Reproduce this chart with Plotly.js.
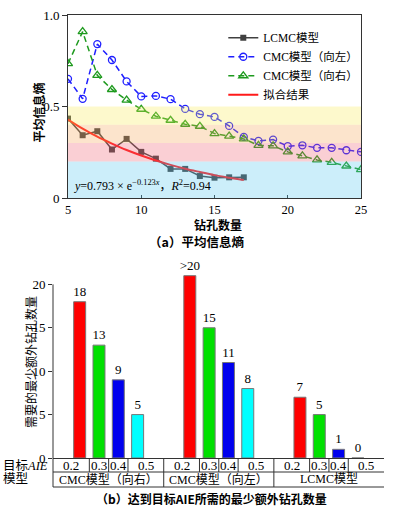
<!DOCTYPE html>
<html><head><meta charset="utf-8">
<script src="https://cdn.plot.ly/plotly-3.0.1.min.js"></script>
<style>
html,body{margin:0;padding:0;background:#fff;width:395px;height:511px;overflow:hidden}
#a{position:absolute;left:0;top:0;width:395px;height:250px}
#b{position:absolute;left:0;top:250px;width:395px;height:261px}
</style></head><body>
<div id="a"></div><div id="b"></div>
<script>
// ===== (a) 平均信息熵 data =====
const lcmcHoles = [5,6,7,8,9,10,11,12,13,14,15,16,17];
const lcmcAIE   = [0.434,0.343,0.365,0.265,0.323,0.252,0.215,0.159,0.159,0.120,0.111,0.113,0.113];
const cmcHoles  = [5,6,7,8,9,10,11,12,13,14,15,16,17,18,19,20,21,22,23,24,25];
const cmcLeftAIE  = [0.651,0.542,0.841,0.754,0.637,0.555,0.558,0.540,0.487,0.458,0.443,0.394,0.334,0.312,0.319,0.283,0.288,0.274,0.274,0.261,0.252];
const cmcRightAIE = [0.734,0.909,0.670,0.593,0.535,0.485,0.447,0.425,0.403,0.392,0.352,0.338,0.323,0.288,0.285,0.252,0.230,0.208,0.195,0.175,0.155];
const fitHoles = [5,6,7,8,9,10,11,12,13,14,15,16,17];
const fitAIE   = [0.429,0.379,0.335,0.297,0.262,0.232,0.205,0.181,0.160,0.142,0.125,0.111,0.098];
const seriesNames = ['LCMC模型','CMC模型（向左）','CMC模型（向右）','拟合结果'];
const bandLevels = [0, 0.2, 0.3, 0.4, 0.5];
const yTickVals = [0, 0.5, 1];
const yTickText = ['0', '0.5', '1.0'];

// ===== (b) 最少额外钻孔数量 data =====
const models = ['CMC模型（向右）','CMC模型（向左）','LCMC模型'];
const aieTargets = ['0.2','0.3','0.4','0.5'];
const extraCMCRight = [18,13,9,5];
const extraCMCLeft  = [21,15,11,8];   // 21 drawn for ">20"
const extraLCMC     = [7,5,1,0];
const labelsCMCRight = ['18','13','9','5'];
const labelsCMCLeft  = ['>20','15','11','8'];
const labelsLCMC     = ['7','5','1','0'];
const yTicksB = [0,5,10,15,20];

const FONT = 'Liberation Serif, "Noto Sans CJK SC", serif';
const CJK = '"Noto Sans CJK SC", Liberation Serif, sans-serif';
const INK = '#000';

// ---------- chart (a) ----------
const bandColors = ['rgb(85,198,238)','rgb(238,96,112)','rgb(245,165,85)','rgb(248,235,85)'];
const shapesA = [];
for (let i = 0; i < bandLevels.length - 1; i++) {
  shapesA.push({type:'rect', xref:'paper', yref:'y', x0:0, x1:1,
    y0:bandLevels[i], y1:bandLevels[i+1], fillcolor:bandColors[i], opacity:0.3,
    line:{width:0}, layer:'above'});
}
const tracesA = [
  {x:lcmcHoles, y:lcmcAIE, name:seriesNames[0], mode:'lines+markers',
   line:{color:'#404040', width:1.5}, marker:{symbol:'square', size:6, color:'#404040'}},
  {x:cmcHoles, y:cmcLeftAIE, name:seriesNames[1], mode:'lines+markers',
   line:{color:'#1f1fff', width:1.5, dash:'6px,4px'}, marker:{symbol:'circle-open', size:7, color:'#1f1fff', line:{width:1.3}}},
  {x:cmcHoles, y:cmcRightAIE, name:seriesNames[2], mode:'lines+markers',
   line:{color:'#1e9a1e', width:1.5, dash:'6px,4px'}, marker:{symbol:'triangle-up-open', size:8, color:'#1e9a1e', line:{width:1.3}}},
  {x:fitHoles, y:fitAIE, name:seriesNames[3], mode:'lines',
   line:{color:'#ff1a1a', width:2, shape:'spline'}}
];
function ann(o){ return Object.assign({showarrow:false, xanchor:'center', yanchor:'middle'}, o); }
const layoutA = {
  width:395, height:250, margin:{l:68, r:34, t:15, b:52},
  paper_bgcolor:'#fff', plot_bgcolor:'#fff',
  font:{family:FONT, size:13, color:INK},
  showlegend:true,
  legend:{x:0.53, y:0.955, xanchor:'left', yanchor:'top', bgcolor:'rgba(0,0,0,0)',
    font:{family:FONT, size:11.5, color:INK}, tracegroupgap:0},
  xaxis:{range:[5,25], tick0:5, dtick:5, ticks:'inside', ticklen:3, tickcolor:'#333',
    showline:true, mirror:true, linecolor:'#333', linewidth:1, showgrid:false, zeroline:false,
    tickfont:{family:FONT, size:12.5, color:INK}},
  yaxis:{range:[0,1], tickvals:yTickVals, ticktext:yTickText, ticks:'outside', ticklen:5, tickcolor:'#333',
    showline:true, mirror:true, linecolor:'#333', linewidth:1, showgrid:false, zeroline:false,
    tickfont:{family:FONT, size:13, color:INK}},
  shapes:shapesA,
  annotations:[
    ann({xref:'paper', yref:'paper', x:-0.099, y:0.467, text:'平均信息熵', textangle:-90,
     font:{family:CJK, size:12, color:INK, weight:'bold'}}),
    ann({xref:'paper', yref:'paper', x:0.512, y:-0.143, text:'钻孔数量',
     font:{family:CJK, size:12, color:INK, weight:'bold'}}),
    ann({xref:'paper', yref:'paper', x:0.44, y:-0.236, text:'（a）平均信息熵',
     font:{family:CJK, size:12.5, color:INK, weight:'bold'}}),
    ann({xref:'paper', yref:'paper', x:0.015, y:0.068, xanchor:'left',
     text:'<i>y</i>=0.793 × e<sup>−0.123<i>x</i></sup>，<i>R</i><sup>2</sup>=0.94',
     font:{family:FONT, size:12, color:INK}})
  ]
};
Plotly.newPlot('a', tracesA, layoutA, {staticPlot:true, displayModeBar:false});

// ---------- chart (b) ----------
const GROUP_STEP = 5.7;
const X0 = -1.38, X1 = 15.75;
const barColors = ['#ff0000','#00e000','#0000ee','#00ffff'];
const valuesByModel = [extraCMCRight, extraCMCLeft, extraLCMC];
const labelsByModel = [labelsCMCRight, labelsCMCLeft, labelsLCMC];
const tracesB = aieTargets.map((t, i) => ({
  type:'bar', name:t,
  x: models.map((m, g) => g*GROUP_STEP + i),
  y: valuesByModel.map(v => v[i]),
  text: labelsByModel.map(v => v[i]),
  textposition:'outside', cliponaxis:false, constraintext:'none',
  textfont:{family:FONT, size:13, color:INK},
  width:0.62,
  marker:{color:barColors[i], line:{color:'#777', width:1}},
  showlegend:false
}));
const MT = 17, MB = 53;
const PH = 261 - MT - MB;
const r1 = -14/PH, r2 = -29/PH;
const L = {color:'#333', width:1};
const shapesB = [
  {type:'line', xref:'paper', yref:'y', x0:0, x1:0, y0:0, y1:yTicksB[yTicksB.length-1], line:L},
  {type:'line', xref:'paper', yref:'paper', x0:0, x1:0, y0:0, y1:r2, line:L},
  {type:'line', xref:'paper', yref:'paper', x0:0, x1:1, y0:r1, y1:r1, line:L},
  {type:'line', xref:'paper', yref:'paper', x0:0, x1:1, y0:r2, y1:r2, line:L}
];
const annB = [];
models.forEach((m, g) => {
  const off = g*GROUP_STEP;
  const gs = g === 0 ? X0 : off - (GROUP_STEP - 3)/2;
  const ge = g === models.length - 1 ? X1 : off + 3 + (GROUP_STEP - 3)/2;
  if (g > 0) shapesB.push({type:'line', xref:'x', yref:'paper', x0:gs, x1:gs, y0:0, y1:r2, line:L});
  const bounds = [gs];
  for (let i = 0; i < aieTargets.length - 1; i++) {
    const d = off + i + 0.5;
    bounds.push(d);
    shapesB.push({type:'line', xref:'x', yref:'paper', x0:d, x1:d, y0:0, y1:r1, line:L});
  }
  bounds.push(ge);
  aieTargets.forEach((t, i) => {
    annB.push(ann({xref:'x', yref:'paper', x:(bounds[i]+bounds[i+1])/2, y:r1/2, text:t,
      font:{family:FONT, size:13, color:INK}}));
  });
  annB.push(ann({xref:'x', yref:'paper', x:(gs+ge)/2, y:(r1+r2)/2, text:m,
    font:{family:FONT, size:12, color:INK}}));
});
annB.push(ann({xref:'paper', yref:'paper', x:-52/331, y:r1/2 - 1/PH, xanchor:'left', text:'目标<i>AIE</i>',
  font:{family:FONT, size:12.5, color:INK}}));
annB.push(ann({xref:'paper', yref:'paper', x:-52/331, y:(r1+r2)/2, xanchor:'left', text:'模型',
  font:{family:FONT, size:12.5, color:INK}}));
annB.push(ann({xref:'paper', yref:'paper', x:-23/331, y:(208-112)/PH, text:'需要的最少额外钻孔数量', textangle:-90,
  font:{family:CJK, size:12, color:INK}}));
annB.push(ann({xref:'paper', yref:'paper', x:0.48, y:(208-248)/PH, text:'（b）达到目标AIE所需的最少额外钻孔数量',
  font:{family:CJK, size:12, color:INK, weight:'bold'}}));
const layoutB = {
  width:395, height:261, margin:{l:53, r:11, t:MT, b:MB},
  paper_bgcolor:'#fff', plot_bgcolor:'#fff',
  font:{family:FONT, size:13, color:INK},
  barmode:'overlay',
  xaxis:{range:[X0, X1], showline:true, linecolor:'#333', linewidth:1, showticklabels:false, ticks:'',
    showgrid:false, zeroline:false},
  yaxis:{range:[0,22], tickvals:yTicksB, ticks:'outside', ticklen:4, tickcolor:'#333',
    showline:false, showgrid:false, zeroline:false,
    tickfont:{family:FONT, size:13, color:INK}},
  shapes:shapesB, annotations:annB
};
Plotly.newPlot('b', tracesB, layoutB, {staticPlot:true, displayModeBar:false});
</script>
</body></html>
